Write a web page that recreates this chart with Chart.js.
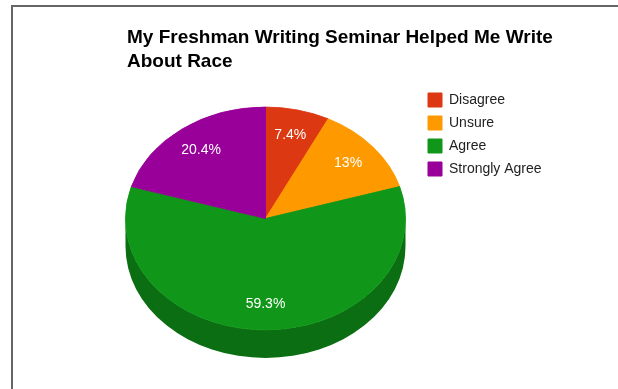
<!DOCTYPE html>
<html>
<head>
<meta charset="utf-8">
<title>My Freshman Writing Seminar Helped Me Write About Race</title>
<script src="https://cdn.jsdelivr.net/npm/chart.js@4.4.1/dist/chart.umd.min.js"></script>
<style>
  html, body { margin: 0; padding: 0; background: #fff; }
  .frame { position: relative; width: 618px; height: 389px; overflow: hidden; }
  .frame::before {
    content: "";
    position: absolute;
    left: 11px; top: 5px; right: -4px; bottom: -4px;
    border-top: 2px solid #666;
    border-left: 2px solid #666;
  }
  canvas { position: absolute; left: 0; top: 0; }
</style>
</head>
<body>
<div class="frame"><canvas id="chart" width="618" height="389"></canvas></div>
<script>
const answers = ["Disagree", "Unsure", "Agree", "Strongly Agree"];
const shares = [7.4, 13, 59.3, 20.4];

const titleLines = ["My Freshman Writing Seminar Helped Me Write", "About Race"];

const sliceColors = ["#DC3912", "#FF9900", "#109618", "#990099"];
const sideColors = ["#9c280c", "#b36b00", "#0c6e12", "#6b006b"];
const fontFamily = "'Liberation Sans', Arial, sans-serif";

// tilted pie: squash the top face and draw the rim below it
const pie3d = {
  id: "pie3d",
  beforeDatasetsDraw(chart, args, opts) {
    const arcs = chart.getDatasetMeta(0).data;
    this._tilted = false;
    if (!arcs.length) return;
    const { ctx } = chart;
    const { x, y, outerRadius } = arcs[0].getProps(["x", "y", "outerRadius"], true);
    const ry = outerRadius * opts.tilt;

    ctx.save();
    arcs.forEach((arc, i) => {
      const { startAngle, endAngle } = arc.getProps(["startAngle", "endAngle"], true);
      for (const turn of [-2 * Math.PI, 0, 2 * Math.PI]) {
        const s = Math.max(startAngle + turn, 0);
        const e = Math.min(endAngle + turn, Math.PI);
        if (s >= e) continue;
        ctx.beginPath();
        ctx.ellipse(x, y, outerRadius, ry, 0, s, e);
        ctx.ellipse(x, y + opts.depth, outerRadius, ry, 0, e, s, true);
        ctx.closePath();
        ctx.fillStyle = opts.sideColors[i];
        ctx.fill();
      }
    });
    ctx.restore();

    ctx.save();
    ctx.translate(0, y);
    ctx.scale(1, opts.tilt);
    ctx.translate(0, -y);
    this._tilted = true;
  },
  afterDatasetsDraw(chart, args, opts) {
    const { ctx } = chart;
    if (this._tilted) ctx.restore();

    const arcs = chart.getDatasetMeta(0).data;
    ctx.save();
    ctx.font = opts.labelFont;
    ctx.fillStyle = "#fff";
    ctx.textAlign = "center";
    ctx.textBaseline = "middle";
    arcs.forEach((arc, i) => {
      const { x, y, startAngle, endAngle, outerRadius } =
        arc.getProps(["x", "y", "startAngle", "endAngle", "outerRadius"], true);
      const mid = (startAngle + endAngle) / 2;
      const r = outerRadius * opts.labelRadius;
      ctx.fillText(shares[i] + "%", x + Math.cos(mid) * r, y + Math.sin(mid) * r * opts.tilt);
    });
    ctx.restore();
  },
};

// title sits a little right of the plot's left edge
const titleIndent = {
  id: "titleIndent",
  afterLayout(chart, args, opts) {
    const t = chart.titleBlock;
    if (!t) return;
    t.left += opts.x;
    t.right += opts.x;
  },
};

new Chart(document.getElementById("chart"), {
  type: "pie",
  data: {
    labels: answers,
    datasets: [{
      data: shares,
      backgroundColor: sliceColors,
      borderColor: sliceColors,
      borderWidth: 1,
      radius: 140,
    }],
  },
  plugins: [pie3d, titleIndent],
  options: {
    responsive: false,
    animation: false,
    events: [],
    layout: { padding: { left: 112, right: 69, top: 0, bottom: 36 } },
    plugins: {
      title: {
        display: true,
        text: titleLines,
        align: "start",
        color: "#000",
        font: { family: fontFamily, size: 19, weight: "bold", lineHeight: 24 / 19 },
        padding: { top: 25.5, bottom: 10.5 },
      },
      legend: {
        position: "right",
        align: "start",
        fullSize: false,
        maxWidth: 130,
        labels: {
          boxWidth: 14,
          boxHeight: 14,
          padding: 9,
          color: "#222",
          font: { family: fontFamily, size: 14 },
        },
      },
      tooltip: { enabled: false },
      pie3d: {
        tilt: 0.796,
        depth: 28,
        sideColors: sideColors,
        labelRadius: 0.77,
        labelFont: "14px " + fontFamily,
      },
      titleIndent: { x: 15 },
    },
  },
});
</script>
</body>
</html>
